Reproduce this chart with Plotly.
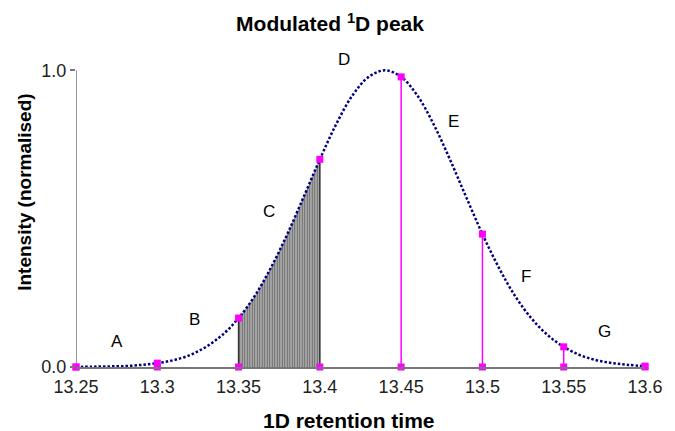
import plotly.graph_objects as go

# Normalised 1D peak profile, sampled every 0.01 min
rt = [13.25, 13.26, 13.27, 13.28, 13.29, 13.30, 13.31, 13.32, 13.33, 13.34,
      13.35, 13.36, 13.37, 13.38, 13.39, 13.40, 13.41, 13.42, 13.43, 13.44,
      13.45, 13.46, 13.47, 13.48, 13.49, 13.50, 13.51, 13.52, 13.53, 13.54,
      13.55, 13.56, 13.57, 13.58, 13.59, 13.60]
intensity = [0.000, 0.001, 0.002, 0.003, 0.007, 0.013, 0.023, 0.040, 0.068, 0.108,
             0.165, 0.240, 0.336, 0.448, 0.573, 0.700, 0.818, 0.915, 0.978, 1.000,
             0.978, 0.915, 0.818, 0.700, 0.573, 0.448, 0.336, 0.240, 0.165, 0.108,
             0.068, 0.040, 0.023, 0.013, 0.007, 0.003]

# Modulation points (every 0.05 min) and their sampled intensities
mod_rt = [13.25, 13.30, 13.35, 13.40, 13.45, 13.50, 13.55, 13.60]
mod_int = [0.000, 0.013, 0.165, 0.700, 0.978, 0.448, 0.068, 0.003]
tick_text = ["13.25", "13.3", "13.35", "13.4", "13.45", "13.5", "13.55", "13.6"]

# Region labels
labels = ["A", "B", "C", "D", "E", "F", "G"]
label_rt = [13.275, 13.323, 13.369, 13.415, 13.482, 13.527, 13.575]
label_int = [0.086, 0.160, 0.523, 1.035, 0.827, 0.305, 0.120]

# Hatched modulation window
win_start, win_end = 13.35, 13.40

FONT = "Liberation Sans, Arial, sans-serif"
NAVY = "#000080"
MAGENTA = "#FF00FF"

Y_TOP = 1.045
PLOT_H = 310
MARGIN_B = 64
MARGIN_T = 431 - MARGIN_B - PLOT_H

fig = go.Figure()

# Hatched slice of the peak between two modulations
win_x = [x for x in rt if win_start - 1e-9 <= x <= win_end + 1e-9]
win_y = [y for x, y in zip(rt, intensity) if win_start - 1e-9 <= x <= win_end + 1e-9]
fig.add_trace(go.Scatter(
    x=win_x, y=win_y, mode="lines", line=dict(width=0, shape="spline"),
    fill="tozeroy", fillcolor="white",
    fillpattern=dict(shape="|", fgcolor="black", bgcolor="#d0d0d0", size=2.5, solidity=0.6),
    hoverinfo="skip", showlegend=False,
))

# Edges of the hatched slice
edge_x, edge_y = [], []
for x, y in zip(mod_rt, mod_int):
    if win_start - 1e-9 <= x <= win_end + 1e-9:
        edge_x += [x, x, None]
        edge_y += [0, y, None]
fig.add_trace(go.Scatter(x=edge_x, y=edge_y, mode="lines",
                         line=dict(color="#333333", width=1.5),
                         hoverinfo="skip", showlegend=False))

# Magenta drop lines after the slice
drop_x, drop_y = [], []
for x, y in zip(mod_rt, mod_int):
    if x > win_end + 1e-9 and y > 0.02:
        drop_x += [x, x, None]
        drop_y += [0, y, None]
fig.add_trace(go.Scatter(x=drop_x, y=drop_y, mode="lines",
                         line=dict(color=MAGENTA, width=1.5),
                         hoverinfo="skip", showlegend=False))

# Peak profile (dotted)
fig.add_trace(go.Scatter(
    x=rt, y=intensity, mode="lines",
    line=dict(color=NAVY, width=2.5, dash="2.5px,2px", shape="spline"),
    showlegend=False,
))

# Modulation markers on the baseline and on the profile
fig.add_trace(go.Scatter(x=mod_rt, y=[0] * len(mod_rt), mode="markers",
                         marker=dict(symbol="square", size=7, color=MAGENTA),
                         cliponaxis=False, showlegend=False))
fig.add_trace(go.Scatter(x=mod_rt, y=mod_int, mode="markers",
                         marker=dict(symbol="square", size=7, color=MAGENTA),
                         cliponaxis=False, showlegend=False))

# Y axis line drawn from 0 to 1 only
fig.add_shape(type="line", xref="x", yref="y", x0=13.25, x1=13.25, y0=0, y1=1,
              line=dict(color="#777777", width=1.5), layer="below")

for t, x, y in zip(labels, label_rt, label_int):
    fig.add_annotation(x=x, y=y, text=t, showarrow=False,
                       font=dict(family=FONT, size=17, color="black"))

fig.add_annotation(xref="paper", yref="paper",
                   x=(353 - 76) / 578, y=(431 - MARGIN_B - 420) / PLOT_H,
                   xanchor="center", yanchor="middle",
                   text="<b>1D retention time</b>", showarrow=False,
                   font=dict(family=FONT, size=21, color="black"))
fig.add_annotation(xref="paper", yref="paper",
                   x=(24 - 76) / 578, y=(431 - MARGIN_B - 192) / PLOT_H,
                   xanchor="center", yanchor="middle",
                   text="<b>Intensity (normalised)</b>", showarrow=False, textangle=-90,
                   font=dict(family=FONT, size=19, color="black"))

fig.update_layout(
    width=675, height=431,
    margin=dict(l=76, r=21, t=MARGIN_T, b=MARGIN_B),
    paper_bgcolor="white", plot_bgcolor="white",
    title=dict(text="<b>Modulated <sup>1</sup>D peak</b>", x=330 / 675, xanchor="center",
               y=1 - 24 / 431, yanchor="middle",
               font=dict(family=FONT, size=21, color="black")),
    xaxis=dict(range=[13.25, 13.6], tickvals=mod_rt, ticktext=tick_text,
               showgrid=False, zeroline=False, showline=True, linecolor="#777777", linewidth=1.5,
               ticks="outside", ticklen=3, tickcolor="rgba(0,0,0,0)",
               tickfont=dict(family=FONT, size=18, color="#222222")),
    yaxis=dict(range=[0, Y_TOP], tickvals=[0, 1], ticktext=["0.0", "1.0"],
               showgrid=False, zeroline=False, showline=False,
               ticks="outside", ticklen=5, tickcolor="#777777", tickwidth=1.5,
               tickfont=dict(family=FONT, size=18, color="#222222")),
)

fig.write_html("out.html")
